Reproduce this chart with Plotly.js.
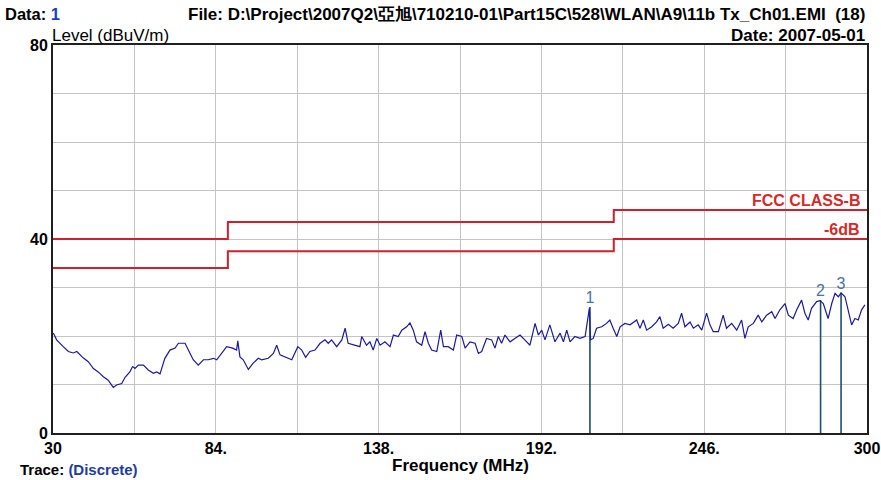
<!DOCTYPE html>
<html><head><meta charset="utf-8">
<script src="https://cdn.plot.ly/plotly-3.0.1.min.js"></script>
<style>html,body{margin:0;padding:0;background:#fff}#chart{width:881px;height:480px}</style>
</head><body><div id="chart"></div>
<script>
// Measured trace (frequency in MHz, level in dBuV/m)
const freq = [30.1,31.2,33.4,35.1,36.7,37.9,40.0,41.7,43.4,45.0,46.7,48.3,50.0,51.1,52.8,53.9,55.5,56.4,57.2,58.3,60.0,61.6,63.3,64.4,65.5,67.1,68.8,70.5,71.6,73.8,74.9,76.5,78.2,79.9,81.5,83.2,84.3,86.0,87.6,89.6,90.9,91.3,92.0,93.1,94.8,96.4,98.1,99.2,101.4,103.1,104.2,105.3,107.0,109.2,111.2,112.5,113.8,115.2,116.9,118.6,120.2,121.3,122.4,124.1,125.8,126.9,127.9,130.2,131.8,132.4,134.0,135.1,136.2,137.4,138.5,140.1,141.8,142.9,144.5,145.7,147.3,148.4,149.5,150.6,152.3,153.4,154.5,155.6,157.3,158.6,159.5,161.1,162.8,163.9,165.6,166.7,168.3,170.0,171.1,172.2,173.8,175.5,176.6,177.7,178.8,179.9,181.6,183.2,184.9,186.5,188.2,189.9,191.0,192.1,193.2,194.8,196.5,198.2,199.3,200.4,201.5,203.1,204.8,206.5,207.9,208.3,209.2,210.3,212.0,213.6,214.7,215.8,217.0,218.1,219.7,221.4,222.5,223.6,224.7,225.8,226.9,228.6,230.2,231.3,232.4,234.1,235.7,237.4,238.5,239.6,241.3,242.4,244.0,245.2,246.8,247.9,249.0,250.7,252.3,253.4,255.1,256.8,258.4,259.5,260.6,262.3,263.9,265.1,266.7,268.4,269.5,271.1,272.8,273.9,275.5,276.7,278.3,279.4,280.5,281.6,283.3,284.4,285.5,287.1,288.3,289.4,290.5,291.4,292.7,293.8,294.9,296.0,297.1,298.2,299.3];
const level = [20.6,19.2,17.8,16.8,16.5,16.8,15.5,14.7,13.3,12.6,11.6,10.9,9.4,9.9,10.2,11.5,12.6,13.7,13.3,14.0,14.0,13.0,12.3,12.6,12.2,15.4,17.1,17.5,18.5,18.5,17.1,15.1,14.0,15.1,15.1,15.4,15.1,16.4,17.8,17.5,17.1,19.0,15.7,15.1,13.1,14.4,15.4,15.1,15.4,16.4,18.1,16.1,15.7,15.1,17.8,17.1,15.6,16.8,17.1,18.5,19.2,18.5,19.2,17.8,19.2,21.6,18.5,18.1,17.8,19.9,18.1,18.8,17.1,19.5,18.1,18.8,17.8,20.2,19.9,21.2,21.9,22.7,21.2,18.8,18.1,20.9,18.5,17.1,16.8,21.2,17.8,17.8,17.1,20.2,19.9,17.5,18.8,18.5,16.4,16.8,19.5,19.2,17.5,19.9,18.5,20.2,18.8,19.5,20.2,19.2,18.1,22.6,20.2,21.2,19.2,22.3,18.8,20.6,18.8,21.2,18.8,19.9,19.5,19.9,25.7,19.2,19.5,21.6,21.9,22.6,23.3,21.6,19.9,21.9,22.6,22.3,22.9,23.3,21.6,23.3,21.2,21.9,22.9,24.0,21.6,22.4,21.6,22.6,24.7,21.9,22.9,21.6,22.3,21.2,24.7,22.3,20.9,20.9,24.3,21.6,22.6,21.2,23.3,19.5,21.9,22.6,24.3,22.9,24.3,25.0,23.6,25.4,26.7,24.3,23.6,25.4,27.4,24.7,23.3,25.7,27.1,27.3,26.7,23.6,26.7,28.8,28.1,28.9,28.1,25.4,22.3,23.6,23.3,25.4,26.4];
// FCC Class B limit and -6 dB margin line
const limitFreq = [30, 88, 216, 300];
const limitLevel = [40, 43.5, 46, 46];
const marginLevel = [34, 37.5, 40, 40];
// Markers
const markerFreq = [208.1, 284.6, 291.4];
const markerLevel = [26.0, 27.4, 28.9];
const markerLabels = ['1', '2', '3'];
// Ticks
const xTickVals = [30, 84, 138, 192, 246, 300];
const xTickText = ['30', '84.', '138.', '192.', '246.', '300'];
const yTickVals = [0, 40, 80];
const yTickText = ['0', '40', '80'];

const W = 881, H = 480, L = 53, R = 14, T = 45, B = 47;
const pw = W - L - R, ph = H - T - B;
const px = x => (x - L) / pw;
const py = y => (H - B - y) / ph;
const FONT = 'Liberation Sans, Arial, sans-serif';

const mx = [], my = [];
markerFreq.forEach((f, i) => { mx.push(f, f, null); my.push(0, markerLevel[i], null); });

const traces = [
  {x: limitFreq, y: limitLevel, mode: 'lines', line: {color: '#cc2230', width: 2, shape: 'hv'}, hoverinfo: 'skip'},
  {x: limitFreq, y: marginLevel, mode: 'lines', line: {color: '#cc2230', width: 2, shape: 'hv'}, hoverinfo: 'skip'},
  {x: mx, y: my, mode: 'lines', line: {color: '#1f4e6e', width: 1.6}, hoverinfo: 'skip'},
  {x: freq, y: level, mode: 'lines', line: {color: '#1a1a9c', width: 1.2}},
  {x: markerFreq, y: markerLevel, mode: 'text', text: markerLabels, textposition: 'top center',
   textfont: {family: FONT, size: 16, color: '#4a70a8'}, hoverinfo: 'skip'}
];

const ann = (text, x, y, xa, ya, font) => ({text, x: px(x), y: py(y), xref: 'paper', yref: 'paper',
  xanchor: xa, yanchor: ya, showarrow: false, font: Object.assign({family: FONT, color: '#000'}, font)});

const layout = {
  width: W, height: H,
  margin: {l: L, r: R, t: T, b: B, pad: 0},
  paper_bgcolor: '#fff', plot_bgcolor: '#fff',
  showlegend: false,
  xaxis: {range: [30, 300], tickmode: 'array', tickvals: xTickVals, ticktext: xTickText,
    tickfont: {family: FONT, size: 16, weight: 'bold', color: '#000'},
    showgrid: true, gridcolor: '#c4c4c4', gridwidth: 1,
    minor: {tick0: 30, dtick: 27, showgrid: true, gridcolor: '#c4c4c4', gridwidth: 1},
    showline: true, linecolor: '#202020', linewidth: 2, mirror: true, zeroline: false, ticks: ''},
  yaxis: {range: [0, 80], tickmode: 'array', tickvals: yTickVals, ticktext: yTickText,
    tickfont: {family: FONT, size: 16, weight: 'bold', color: '#000'},
    showgrid: true, gridcolor: '#c4c4c4', gridwidth: 1,
    minor: {tick0: 0, dtick: 10, showgrid: true, gridcolor: '#c4c4c4', gridwidth: 1},
    showline: true, linecolor: '#202020', linewidth: 2, mirror: true, zeroline: false, ticks: ''},
  annotations: [
    ann('Data: <span style="color:#1a3cc8">1</span>', 3, 14, 'left', 'middle', {size: 16.5, weight: 'bold'}),
    ann('File: D:\\Project\\2007Q2\\亞旭\\710210-01\\Part15C\\528\\WLAN\\A9\\11b Tx_Ch01.EMI  (18)', 867, 14, 'right', 'middle', {size: 17, weight: 'bold'}),
    ann('Level (dBuV/m)', 50, 35, 'left', 'middle', {size: 17}),
    ann('Date: 2007-05-01', 867, 35, 'right', 'middle', {size: 17, weight: 'bold'}),
    ann('FCC CLASS-B', 862, 200, 'right', 'middle', {size: 16, weight: 'bold', color: '#d42a2a'}),
    ann('-6dB', 862, 229, 'right', 'middle', {size: 16, weight: 'bold', color: '#d42a2a'}),
    ann('Frequency (MHz)', 460, 466, 'center', 'middle', {size: 17, weight: 'bold'}),
    ann('Trace: <span style="color:#1f3c9c">(Discrete)</span>', 18, 480, 'left', 'bottom', {size: 15, weight: 'bold'})
  ]
};

Plotly.newPlot('chart', traces, layout, {displayModeBar: false, staticPlot: true});
</script>
</body></html>
